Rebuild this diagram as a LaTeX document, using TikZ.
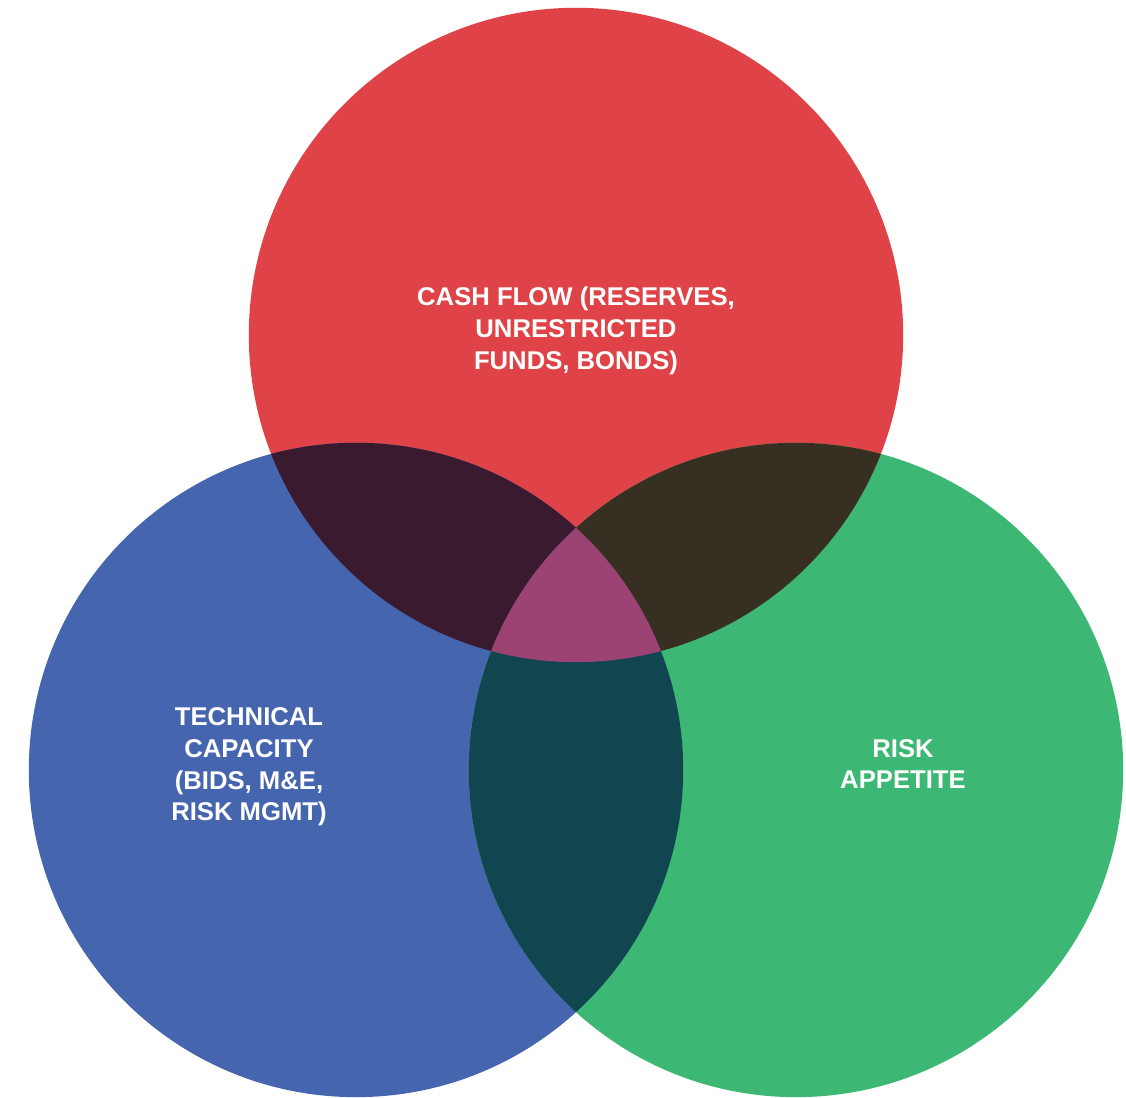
\documentclass[tikz,border=0pt]{standalone}
\usepackage{fontspec}
\setmainfont{Liberation Sans}
\usepackage{tikz}
\usetikzlibrary{positioning}

\definecolor{cashred}{HTML}{DF4347}
\definecolor{techblue}{HTML}{4565AE}
\definecolor{riskgreen}{HTML}{3DB874}
\definecolor{cashtech}{HTML}{3A1A2E}
\definecolor{cashrisk}{HTML}{373022}
\definecolor{techrisk}{HTML}{114650}
\definecolor{allthree}{HTML}{9C4374}

\tikzset{
    setcircle/.style={circle, inner sep=0pt, minimum size=6.54cm},
    settext/.style={align=center, text=white, font=\bfseries\fontsize{7.3}{9}\selectfont}
}

\begin{document}
\begin{tikzpicture}[x=0.01cm, y=0.01cm]
    \def\rad{3.27cm}
    \useasboundingbox (0,0) rectangle (1126,1098);
    \node(cash) [setcircle, fill=cashred] at (576,763) {};
    \node(tech) [setcircle, fill=techblue] at (356,328) {};
    \node(risk) [setcircle, fill=riskgreen] at (796,328) {};
    % pairwise overlaps
    \begin{scope}
        \clip (cash.center) circle (\rad);
        \fill[cashtech] (tech.center) circle (\rad);
        \fill[cashrisk] (risk.center) circle (\rad);
    \end{scope}
    \begin{scope}
        \clip (tech.center) circle (\rad);
        \fill[techrisk] (risk.center) circle (\rad);
    \end{scope}
    % middle
    \begin{scope}
        \clip (cash.center) circle (\rad);
        \clip (tech.center) circle (\rad);
        \fill[allthree] (risk.center) circle (\rad);
    \end{scope}
    \node(cashtxt) [settext] at (576,767) {CASH FLOW (RESERVES,\\UNRESTRICTED\\FUNDS, BONDS)};
    \node(techtxt) [settext] at (249,331) {TECHNICAL\\CAPACITY\\(BIDS, M\&E,\\RISK MGMT)};
    \node(risktxt) [settext] at (903,334) {RISK\\APPETITE};
\end{tikzpicture}
\end{document}
